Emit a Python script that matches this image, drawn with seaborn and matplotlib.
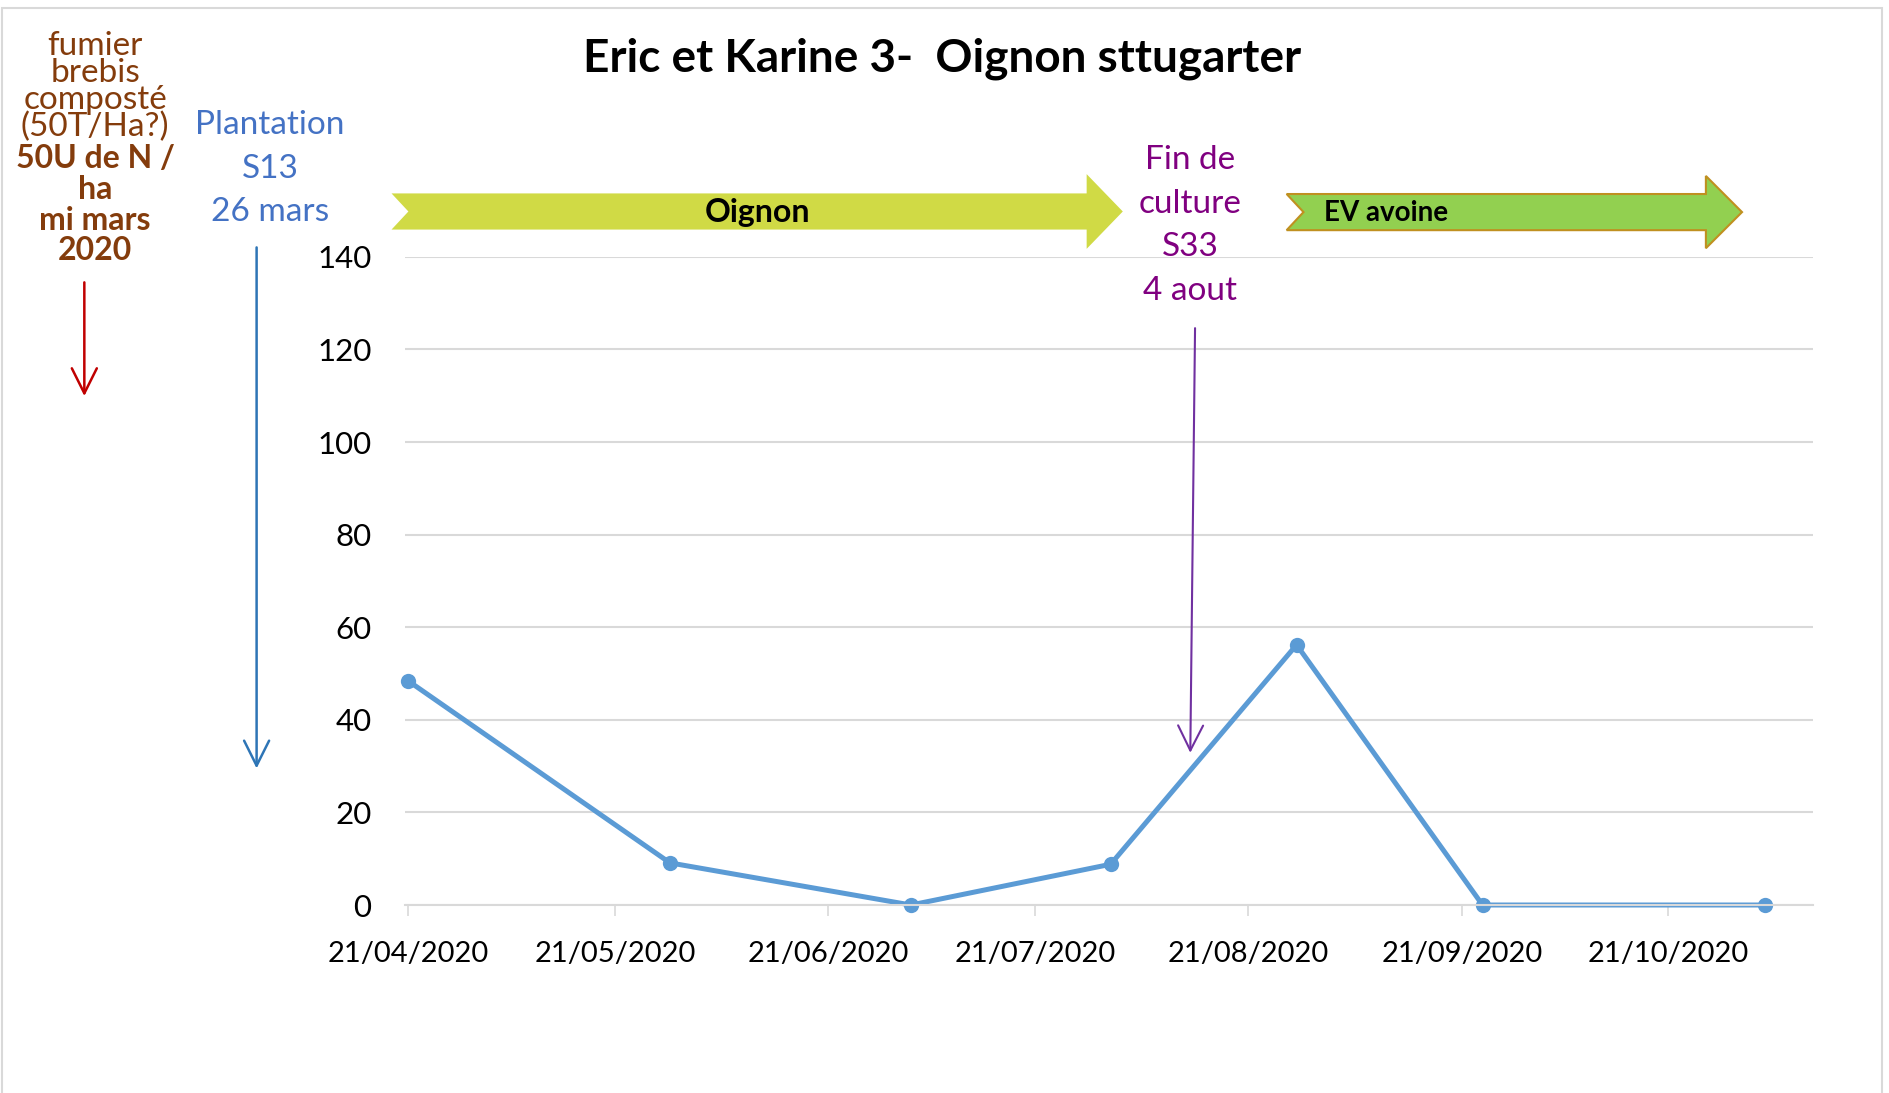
import pandas as pd
import numpy as np
import matplotlib
matplotlib.use('Agg')
import matplotlib.pyplot as plt
import matplotlib.dates as mdates
from matplotlib.patches import Polygon, Rectangle, FancyArrowPatch
import seaborn as sns

## Data
dates = ['2020-04-21', '2020-05-29', '2020-07-03', '2020-08-01',
         '2020-08-28', '2020-09-24', '2020-11-04']
values = [48.4, 9.1, 0, 8.8, 56.2, 0, 0]
title = 'Eric et Karine 3-  Oignon sttugarter'
tick_dates = ['2020-04-21', '2020-05-21', '2020-06-21', '2020-07-21',
              '2020-08-21', '2020-09-21', '2020-10-21']

df = pd.DataFrame({'date': pd.to_datetime(dates), 'value': values})

sns.set_style('white')
plt.rcParams['font.family'] = ['Lato', 'DejaVu Sans']

fig = plt.figure(figsize=(18.89, 10.93), dpi=100)
ax = fig.add_axes([0.2143, 0.172, 0.9598 - 0.2143, 0.765 - 0.172])

sns.lineplot(data=df, x='date', y='value', ax=ax, color='#5b9bd5',
             linewidth=3.6, marker='o', markersize=11, markeredgewidth=0,
             clip_on=False)

ax.set_ylim(0, 140)
ax.set_yticks(np.arange(0, 141, 20))
ax.set_xlim(pd.Timestamp('2020-04-21') - pd.Timedelta(days=0.5),
            pd.Timestamp('2020-11-11'))
ax.set_xticks(pd.to_datetime(tick_dates))
ax.xaxis.set_major_formatter(mdates.DateFormatter('%d/%m/%Y'))
ax.grid(axis='y', color='#d9d9d9', linewidth=1.5)
ax.set_axisbelow(True)
for s in ['top', 'right', 'left']:
    ax.spines[s].set_visible(False)
ax.spines['bottom'].set_color('#d9d9d9')
ax.spines['bottom'].set_linewidth(1.5)
ax.tick_params(axis='x', length=8, width=1.2, color='#d9d9d9', pad=18,
               labelsize=21, labelcolor='black', bottom=True)
ax.tick_params(axis='y', length=0, pad=24, labelsize=22.5, labelcolor='black')
ax.set_xlabel('')
ax.set_ylabel('')

W, H = 1568.0, 907.0
def fx(x):
    return x / W
def fy(y):
    return 1 - y / H

# title
fig.text(fx(782), fy(49), title, ha='center', va='center',
         fontsize=33, fontweight='bold', color='black')

# crop arrows (chevron tail)
def band_arrow(x0, x1, yc, body, head, headlen, notch, face, edge, lw):
    pts = [(x0, yc - body), (x1 - headlen, yc - body), (x1 - headlen, yc - head),
           (x1, yc), (x1 - headlen, yc + head), (x1 - headlen, yc + body),
           (x0, yc + body), (x0 + notch, yc)]
    pts = [(fx(a), fy(b)) for a, b in pts]
    fig.patches.append(Polygon(pts, closed=True, transform=fig.transFigure,
                               facecolor=face, edgecolor=edge, linewidth=lw))

band_arrow(325, 932, 175.5, 15, 31, 30, 14, '#d0da45', 'none', 0)
fig.text(fx(629), fy(176), 'Oignon', ha='center', va='center',
         fontsize=23, fontweight='bold', color='black')
band_arrow(1068, 1446, 176, 15, 30, 30, 14, '#92d050', '#c09020', 1.5)
fig.text(fx(1099), fy(177), 'EV avoine', ha='left', va='center',
         fontsize=20, fontweight='bold', color='black')

# left notes
brown = '#843c0c'
fig.text(fx(79), fy(72), 'fumier\nbrebis\ncomposté\n(50T/Ha?)', ha='center',
         va='center', fontsize=24, color=brown, linespacing=0.88)
fig.text(fx(79), fy(170), '50U de N /\nha\nmi mars\n2020', ha='center',
         va='center', fontsize=23, fontweight='bold', color=brown,
         linespacing=1.07)

fig.text(fx(224), fy(140), 'Plantation\nS13\n26 mars', ha='center', va='center',
         fontsize=24, color='#4472c4', linespacing=1.56)

fig.text(fx(988), fy(187), 'Fin de\nculture\nS33\n4 aout', ha='center',
         va='center', fontsize=24, color='#800080', linespacing=1.56)

def down_arrow(x0, y0, x1, y1, color, lw):
    fig.patches.append(FancyArrowPatch((fx(x0), fy(y0)), (fx(x1), fy(y1)),
                                       transform=fig.transFigure,
                                       arrowstyle='->,head_length=0.9,head_width=0.45',
                                       color=color, linewidth=lw, mutation_scale=20))

down_arrow(70, 232, 70, 331, '#c00000', 1.8)
down_arrow(213, 203, 213, 640, '#2e75b6', 1.8)
down_arrow(992, 270, 988, 627, '#7030a0', 1.5)

# outer chart border
fig.patches.append(Rectangle((0.0008, -0.01), 0.9955, 1 - 7 / H + 0.01,
                             transform=fig.transFigure, fill=False,
                             edgecolor='#d9d9d9', linewidth=1.5))

fig.savefig('out.png', dpi=100)
